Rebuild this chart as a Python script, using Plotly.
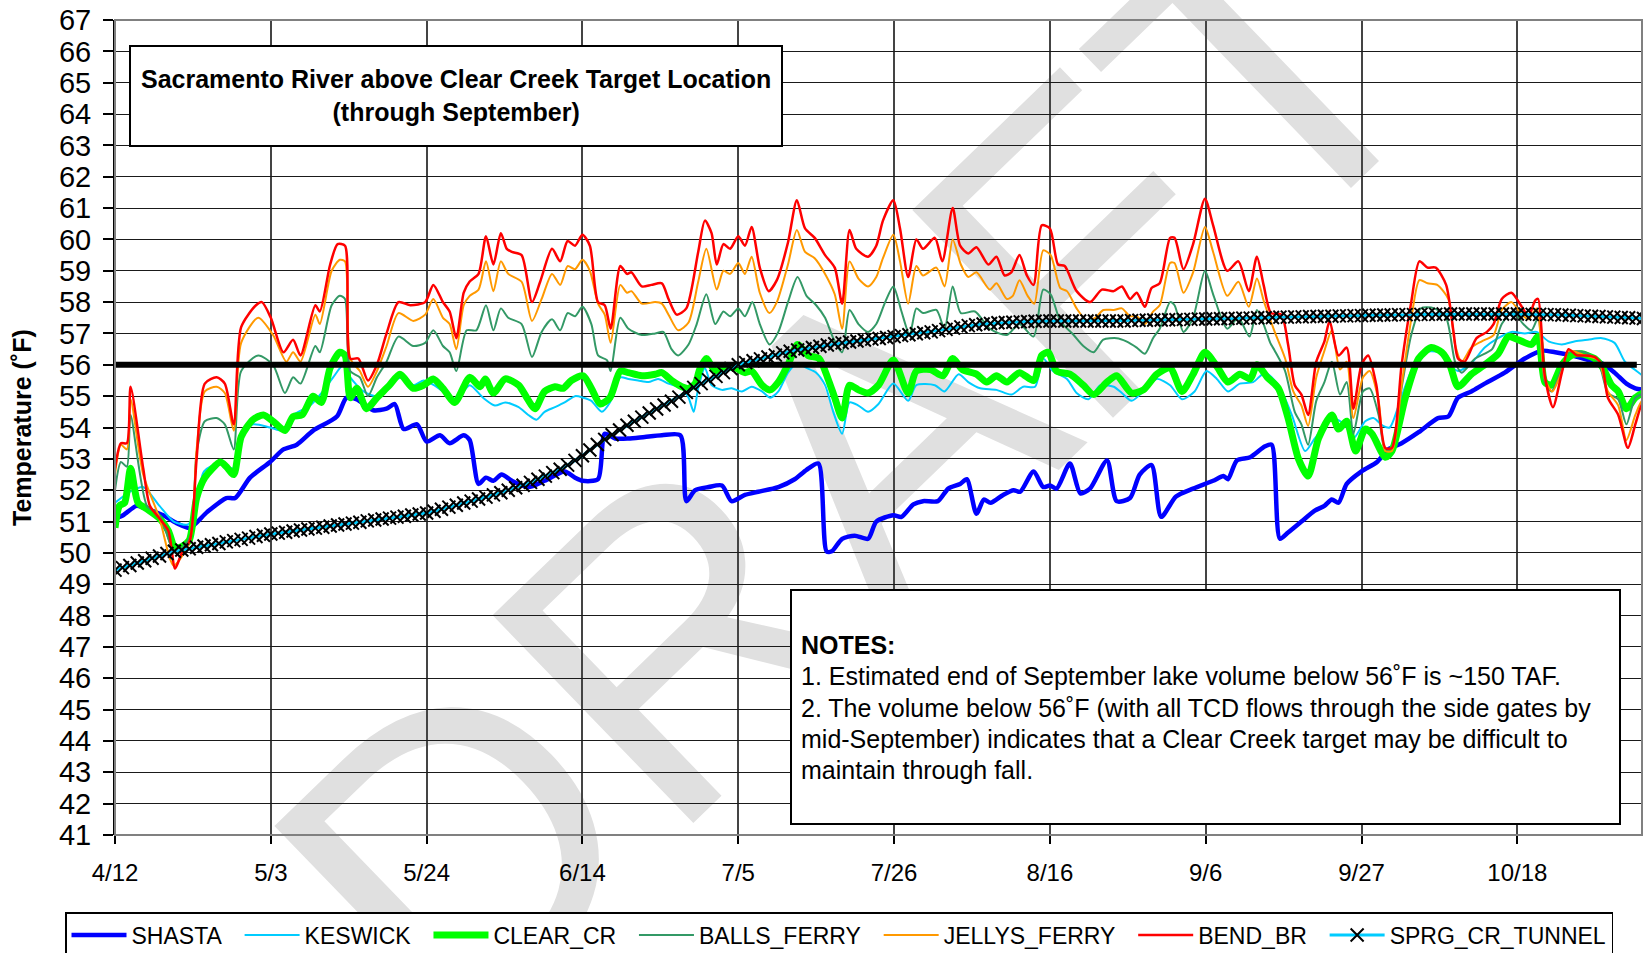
import pandas as pd
import plotly.graph_objects as go

# ---------------- data ----------------
START_DATE = "2009-04-12"
TICK_DAYS = [0, 21, 42, 63, 84, 105, 126, 147, 168, 189]
TICK_LABELS = ["4/12", "5/3", "5/24", "6/14", "7/5", "7/26", "8/16", "9/6", "9/27", "10/18"]
TARGET_TEMP = 56.0
TARGET_DAYS = [0, 205.1]

SHASTA_DAYS = [0, 1.1, 2.9, 4.3, 6.5, 8.3, 10.1, 12.4, 15, 16.2, 18.2, 20.9, 22.7, 24.5, 26.7, 29.9, 31.2, 32.6,
               34.8, 36.6, 37.7, 38.9, 40.7, 42, 43.8, 45.1, 47, 47.8, 49, 50, 51, 52.1, 53.5, 55.7, 57.9, 60.6,
               62, 63, 65.1, 66, 67.4, 69.2, 71.4, 73.7, 76.2, 77, 78.2, 80, 81.8, 83.1, 84.9, 86.7, 89.4, 91.6,
               93.2, 94.8, 95.9, 96.6, 98, 99.7, 101.5, 102.6, 104.9, 106, 107.6, 108.9, 110.9, 112.3, 113.9,
               114.8, 116.1, 117.1, 118, 119.7, 121.1, 122, 123.8, 125.1, 126, 126.9, 128.7, 130.1, 131.4, 133.7,
               135, 136.8, 138.1, 139.7, 141, 143, 145.3, 148, 149.4, 150, 151.2, 153, 155, 155.9, 157, 158.1,
               159.9, 161.7, 163, 164, 164.9, 166, 168, 170.1, 171.6, 173.4, 175.7, 178.3, 179.7, 181, 182.8,
               184.6, 187.3, 190, 192.3, 194.1, 196.3, 198.6, 200.4, 202.1, 203.7, 204.9, 206.2]
SHASTA_TEMP = [51.1, 51.2, 51.5, 51.4, 51.2, 50.95, 50.8, 51.3, 51.75, 51.75, 52.4, 52.9, 53.3, 53.45, 53.9, 54.35,
               54.95, 54.9, 54.55, 54.6, 54.75, 53.95, 54.1, 53.55, 53.75, 53.5, 53.75, 53.6, 52.2, 52.4, 52.3,
               52.5, 52.3, 52.1, 52.3, 52.6, 52.4, 52.3, 52.35, 53.8, 53.65, 53.65, 53.7, 53.75, 53.75, 51.65,
               52.0, 52.1, 52.15, 51.65, 51.85, 51.95, 52.1, 52.35, 52.65, 52.85, 50.05, 50.05, 50.45, 50.55,
               50.45, 51.0, 51.2, 51.15, 51.55, 51.65, 51.65, 52.05, 52.2, 52.35, 51.25, 51.7, 51.6, 51.85, 52.0,
               51.95, 52.6, 52.1, 52.15, 52.05, 52.85, 51.9, 52.05, 52.95, 51.65, 51.75, 52.5, 52.8, 51.15, 51.8,
               52.05, 52.3, 52.45, 52.35, 52.95, 53.05, 53.4, 53.45, 50.45, 50.65, 51.0, 51.35, 51.5, 51.7, 51.6,
               52.2, 52.6, 52.9, 53.3, 53.5, 53.85, 54.3, 54.35, 54.95, 55.15, 55.4, 55.75, 56.2, 56.45, 56.4,
               56.3, 56.15, 56.05, 55.75, 55.4, 55.25, 55.2]

KESWICK_DAYS = [0, 2, 3.8, 6, 7.9, 9.7, 10.5, 12, 14, 16, 17, 18.6, 20.9, 22.7, 24, 26.3, 28, 29.4, 30.8, 31.7, 33.5,
                35.3, 37.5, 38.9, 40.2, 41.6, 43, 44.2, 46, 47.8, 49.6, 51.2, 52.6, 54.4, 55.7, 56.8, 57.9, 59.3,
                60.6, 62, 63.1, 64.2, 65.6, 66.7, 68.1, 69.2, 70.5, 71.9, 73.2, 74.6, 76.4, 77.3, 78, 78.6, 79.5,
                80.4, 81.8, 83.1, 84.5, 85.8, 87.2, 88.3, 89.4, 90.7, 91.9, 93.2, 94.5, 95.7, 96.8, 98, 99, 100.2,
                101.5, 102.9, 104.9, 106.9, 108, 110.5, 111.8, 113.7, 115, 116.6, 118.8, 120.8, 122.4, 124, 125.1,
                126.4, 128.3, 129.6, 131.2, 132.8, 134.6, 135.7, 137, 138.6, 140.4, 142.2, 143.8, 145.5, 147.1,
                148.5, 150, 151.6, 153.4, 155, 156.8, 158.6, 160.4, 161.7, 164, 165.7, 166.9, 168.5, 169.6, 170.9,
                171.8, 173, 174.7, 176.5, 178.4, 179.9, 181, 182.8, 184.6, 186.4, 188.2, 190, 191.6, 193.2, 195,
                196.8, 198.5, 200.4, 202.1, 203.5, 204.8, 206.2]
KESWICK_TEMP = [51.6, 51.95, 52.1, 51.5, 51.0, 50.9, 51.1, 52.6, 52.85, 52.7, 53.7, 54.1, 54.0, 53.9, 54.4, 54.7,
                55.15, 55.6, 56.0, 55.6, 55.15, 55.0, 55.5, 55.6, 55.35, 55.5, 55.35, 55.15, 54.9, 55.35, 54.95,
                54.7, 54.8, 54.65, 54.4, 54.25, 54.5, 54.65, 54.8, 55.0, 54.95, 54.85, 54.5, 54.8, 55.6, 55.55,
                55.5, 55.45, 55.55, 55.4, 55.25, 54.95, 54.5, 55.25, 55.9, 55.35, 55.2, 55.25, 55.15, 55.3, 55.15,
                54.95, 55.15, 55.75, 56.05, 55.9, 55.75, 55.35, 54.5, 53.8, 54.8, 54.7, 54.5, 54.75, 55.4, 54.85,
                55.35, 55.35, 55.15, 55.7, 55.45, 55.25, 55.2, 55.05, 55.3, 55.3, 56.2, 55.8, 55.55, 55.1, 54.9,
                55.35, 55.3, 55.1, 54.85, 55.15, 55.55, 55.35, 54.9, 55.15, 55.8, 55.55, 55.15, 55.4, 55.45, 55.75,
                55.35, 54.4, 53.25, 53.65, 54.3, 54.1, 53.65, 54.2, 54.3, 54.05, 54.0, 54.7, 55.8, 56.4, 56.4, 56.0,
                55.8, 56.05, 56.55, 56.85, 57.05, 57.0, 57.05, 56.75, 56.65, 56.75, 56.8, 56.85, 56.7, 56.1, 55.85,
                55.6]

CLEAR_CR_DAYS = [0, 0.6, 1.3, 2.1, 3.1, 4.3, 6, 7.2, 8.1, 9, 10, 11, 12.1, 14.2, 15, 16, 17, 18.6, 20, 21.3, 22.9,
                 24, 25.2, 26.7, 27.8, 29, 30.3, 31, 31.7, 32.6, 33.9, 35.3, 37, 38.4, 40.2, 41.6, 42.9, 44.2, 45.8,
                 47.8, 49.2, 49.9, 51, 52.6, 54.4, 55.5, 56.6, 57.9, 59.3, 60.4, 61.5, 63.1, 64.2, 65.4, 66.7, 68.1,
                 69.2, 71, 72.8, 73.7, 75, 76.4, 77.3, 78.2, 78.8, 79.7, 80.9, 82.2, 83.6, 84.9, 85.8, 87.2, 88.3,
                 89.4, 90.7, 92, 93.4, 94.9, 96.1, 97, 98, 99, 100.2, 101.5, 102.9, 104.9, 106.9, 108, 109.9, 111.6,
                 112.9, 114.2, 116.1, 117.5, 118.8, 120.2, 121.9, 123.8, 124.9, 125.8, 126.9, 128.7, 130.5, 131.9,
                 133.7, 135, 137, 138.6, 140.4, 142.2, 143.8, 145.3, 146.9, 148.5, 150, 151.6, 153, 153.9, 155.3,
                 156.8, 158.1, 159.5, 160.8, 162.2, 164, 164.9, 166, 167.2, 168.5, 169.4, 171.2, 172.1, 173.9,
                 175.7, 177.4, 178.8, 179.9, 181, 182.8, 184.6, 186.4, 187.8, 189.1, 190.9, 191.8, 192.7, 193.6,
                 195, 196.3, 197.6, 199.4, 200.4, 201.7, 202.6, 203.7, 204.9, 206.2]
CLEAR_CR_TEMP = [50.8, 51.5, 51.6, 52.7, 51.6, 51.4, 51.1, 50.7, 50.15, 50.2, 50.4, 51.75, 52.4, 52.9, 52.75, 52.5,
                 53.7, 54.25, 54.4, 54.2, 53.9, 54.35, 54.4, 55.0, 54.8, 55.9, 56.4, 56.3, 54.95, 55.25, 54.6,
                 54.95, 55.35, 55.7, 55.25, 55.35, 55.55, 55.25, 54.8, 55.6, 55.3, 55.55, 55.1, 55.55, 55.35, 54.95,
                 54.6, 55.15, 55.3, 55.25, 55.5, 55.65, 55.25, 54.75, 54.95, 55.8, 55.75, 55.65, 55.7, 55.75, 55.5,
                 55.3, 55.25, 55.4, 55.85, 56.2, 55.8, 55.9, 55.9, 55.75, 55.8, 55.35, 55.2, 55.45, 56.0, 56.65,
                 56.3, 56.2, 55.55, 54.95, 54.3, 55.35, 55.2, 55.1, 55.35, 56.15, 55.1, 55.8, 55.85, 55.65, 56.2,
                 55.85, 55.7, 55.45, 55.65, 55.45, 55.75, 55.5, 56.3, 56.4, 55.8, 55.7, 55.35, 55.05, 55.45, 55.65,
                 55.1, 55.2, 55.7, 55.9, 55.15, 55.7, 56.4, 55.95, 55.45, 55.7, 55.55, 56.0, 55.6, 55.25, 54.3,
                 53.0, 52.45, 53.65, 54.4, 53.95, 54.2, 53.25, 53.95, 53.8, 53.05, 53.25, 54.95, 56.2, 56.55, 56.4,
                 56.0, 55.3, 55.7, 56.0, 56.35, 56.9, 56.8, 56.65, 56.9, 55.45, 55.35, 56.0, 56.3, 56.35, 56.2,
                 55.95, 55.35, 55.15, 54.6, 54.95, 55.15]

BALLS_FERRY_DAYS = [0, 0.8, 1.6, 2.1, 4.3, 6, 8.1, 10.1, 11, 12.1, 13.7, 14.8, 16, 17, 19.3, 21.3, 22.9, 24, 25, 27,
                    27.6, 29.2, 30.3, 31, 31.7, 33, 34.1, 35.3, 36.6, 38.2, 40.2, 41.8, 42.9, 44.2, 45.1, 46, 47.4,
                    48.7, 50, 51, 52, 53, 54.8, 56.2, 57.5, 58.9, 60, 61, 62, 63, 64.2, 65.1, 66.3, 66.8, 68.1,
                    69.2, 71, 72.8, 73.9, 75, 75.9, 77.3, 78.4, 79.7, 80.9, 82, 82.9, 84, 84.9, 85.9, 86.9, 88.2,
                    89.4, 90.7, 92, 93.2, 94.5, 95.7, 96.8, 98, 99, 100.2, 101.5, 102.6, 103.8, 104.9, 106, 107.1,
                    108, 108.9, 110.7, 111.8, 112.9, 114, 115.9, 117.9, 120.2, 121.9, 123.8, 125.1, 126.1, 127.4,
                    129.2, 130.5, 131.9, 133.2, 135, 136.3, 137.7, 138.8, 139.9, 140.8, 142.2, 142.8, 144, 145.3,
                    146.9, 148, 149.9, 151.4, 152.9, 153.9, 154.8, 155.7, 156.3, 157.7, 159, 159.9, 160.8, 161.9,
                    163, 164, 165.1, 166, 166.9, 168.2, 169.1, 170.3, 171.2, 172.1, 173.4, 174.7, 176, 177.8, 179.4,
                    180.6, 181.5, 183.3, 185.6, 186.9, 188.4, 189.8, 190.9, 191.8, 192.7, 193.6, 195, 195.9, 198.1,
                    199.9, 201.2, 202.6, 203.7, 204.9, 206.2]
BALLS_FERRY_TEMP = [52.0, 52.9, 52.75, 54.4, 51.5, 51.2, 50.0, 50.5, 53.2, 54.2, 54.3, 54.1, 53.3, 55.8, 56.3, 56.0,
                    55.1, 55.6, 55.4, 56.6, 56.4, 57.9, 58.2, 58.1, 55.8, 55.6, 55.0, 55.6, 56.1, 56.9, 56.6, 56.7,
                    57.1, 56.6, 56.4, 55.8, 57.1, 57.1, 57.9, 57.1, 57.8, 57.5, 57.3, 56.25, 57.05, 57.45, 57.1,
                    57.65, 57.55, 57.85, 57.3, 56.3, 56.15, 55.8, 57.5, 57.15, 56.95, 57.0, 57.05, 56.5, 56.3,
                    56.65, 57.3, 58.25, 57.3, 57.7, 57.55, 57.8, 57.55, 58.0, 57.3, 56.65, 57.05, 58.0, 58.8, 58.2,
                    57.9, 57.5, 56.85, 56.4, 57.75, 57.3, 57.05, 57.3, 58.0, 58.5, 57.7, 56.95, 57.8, 57.65, 57.75,
                    57.15, 58.5, 57.65, 57.7, 57.15, 56.95, 57.3, 56.9, 58.4, 58.25, 57.4, 56.95, 56.6, 56.4, 56.8,
                    56.85, 56.75, 56.55, 56.35, 56.85, 57.15, 58.0, 57.9, 57.05, 57.5, 59.0, 58.25, 57.15, 57.5,
                    56.9, 57.75, 57.3, 56.7, 56.45, 55.8, 54.5, 54.1, 53.45, 54.85, 55.45, 56.1, 55.05, 55.45, 53.8,
                    55.15, 55.25, 54.4, 53.25, 53.35, 55.25, 56.95, 57.8, 57.8, 57.5, 56.1, 55.75, 56.2, 56.5, 57.3,
                    57.7, 57.3, 57.1, 57.5, 55.45, 55.15, 55.9, 56.4, 56.4, 56.1, 55.1, 54.9, 54.1, 54.95, 55.1]

JELLYS_FERRY_DAYS = [0, 0.8, 1.6, 2.1, 3.8, 6, 7.9, 10.1, 11, 12.1, 13.7, 14.8, 16, 17, 19.3, 21.3, 23.1, 24, 25,
                     27, 27.6, 29.2, 30.3, 31, 31.7, 33, 34.1, 35.3, 36.6, 38.2, 40.2, 41.8, 42.9, 44.2, 45.1, 46,
                     47, 47.8, 49, 50, 51, 52, 53, 54.8, 56.2, 57.5, 58.9, 60, 61, 62, 63, 64, 65.1, 66, 66.8, 68.1,
                     69, 69.6, 71, 72.8, 73.7, 74.6, 75.9, 77.3, 78.6, 79.7, 81.1, 82, 82.9, 84, 84.9, 85.8, 86.9,
                     88.2, 89.2, 90.7, 91.9, 93, 94.3, 95.7, 97, 98, 99, 100.2, 101.5, 102.6, 103.5, 104.9, 105.8,
                     106.9, 108, 108.9, 110.7, 111.8, 112.9, 114, 115, 116.1, 117.9, 118.8, 120.2, 121, 121.9, 123,
                     123.9, 125.1, 126.1, 127.4, 128.3, 129.6, 131, 132.1, 133.2, 134.6, 135.7, 136.8, 137.7, 138.8,
                     139.9, 140.8, 142.2, 142.8, 144, 145.3, 146.9, 148, 149.9, 151.4, 152.8, 153.9, 154.8, 155.3,
                     156.3, 157.7, 158.8, 159.9, 160.8, 161.9, 163, 164, 165.1, 166, 166.9, 168.2, 169.1, 170.3,
                     171.2, 172.1, 173.4, 174.7, 175.8, 176.9, 178.2, 179.7, 180.6, 181.5, 182.8, 184.2, 185.8,
                     186.9, 188.2, 189.6, 190.5, 191.6, 192.7, 193.7, 195, 195.9, 198.1, 199.9, 201.2, 202.6, 203.7,
                     204.9, 205.8, 206.2]
JELLYS_FERRY_TEMP = [52.5, 53.45, 53.3, 54.9, 52.5, 51.1, 49.6, 50.4, 53.3, 55.15, 55.3, 55.1, 53.9, 56.7, 57.5,
                     56.95, 56.1, 56.4, 56.1, 57.6, 57.3, 59.0, 59.35, 59.3, 56.2, 55.8, 55.3, 55.8, 56.6, 57.65,
                     57.4, 57.6, 58.1, 57.5, 57.3, 56.5, 57.9, 58.2, 58.4, 59.3, 58.35, 59.3, 58.9, 58.65, 57.4,
                     58.1, 58.9, 58.55, 59.15, 59.05, 59.35, 59.0, 57.95, 57.6, 56.7, 58.55, 58.3, 58.35, 57.95,
                     58.0, 57.95, 57.6, 57.1, 57.35, 58.65, 59.7, 58.4, 59.0, 58.9, 59.25, 58.9, 59.45, 58.3, 57.65,
                     58.0, 59.2, 60.3, 59.6, 59.4, 58.9, 58.25, 57.15, 59.3, 58.75, 58.5, 58.8, 59.4, 60.15, 59.3,
                     57.95, 59.15, 58.85, 59.1, 58.5, 60.0, 59.2, 58.8, 58.95, 58.4, 58.6, 58.1, 58.2, 58.7, 58.2,
                     57.95, 59.65, 59.5, 58.45, 58.35, 57.8, 57.4, 57.5, 57.75, 57.75, 57.8, 57.55, 57.55, 57.3,
                     57.7, 57.9, 59.25, 59.25, 58.3, 58.95, 60.4, 59.6, 58.2, 58.65, 57.85, 58.75, 58.05, 57.7,
                     57.05, 56.2, 55.15, 54.7, 54.05, 55.6, 56.45, 57.1, 55.85, 56.1, 54.3, 55.6, 55.8, 54.85, 53.25,
                     53.25, 55.35, 57.45, 58.7, 58.6, 58.55, 58.1, 56.65, 56.1, 56.55, 56.75, 56.95, 57.75, 58.0,
                     57.6, 57.45, 57.8, 55.55, 55.15, 55.8, 56.45, 56.3, 56.15, 55.15, 54.7, 53.6, 54.4, 54.85, 54.7]

BEND_BR_DAYS = [0, 0.8, 1.6, 2.1, 3.8, 4.7, 6, 7.2, 8.1, 9, 10.1, 11, 12.1, 13.7, 14.8, 16, 17, 19, 19.8, 21, 22.7,
                24, 25, 27, 27.6, 29, 30, 31, 31.7, 32.8, 34.1, 35.3, 36.6, 38.2, 39.8, 41.8, 42.9, 44.2, 45.1, 46,
                47, 47.8, 49, 50, 51, 52, 52.8, 53.5, 54.8, 56.2, 57.3, 58.9, 60, 61, 62, 63, 64, 65.1, 66, 66.8,
                68.1, 69, 69.6, 71, 72.3, 73.7, 74.6, 75.7, 77, 78.6, 79.5, 80.4, 81.1, 82, 82.9, 84, 84.9, 85.8,
                86.9, 88.1, 89.2, 90.7, 91.9, 93, 94.3, 95.7, 97, 98, 99, 99.9, 101.5, 102.6, 103.5, 104.9, 105.8,
                106.9, 108, 108.9, 110.5, 111.5, 112.9, 113.9, 115, 116.1, 117.7, 118.8, 119.9, 120.8, 121.9,
                122.9, 123.8, 124.9, 126, 127.1, 128, 129.6, 131.4, 133, 134.6, 135.7, 136.8, 137.7, 138.8, 139.7,
                140.8, 142.2, 142.8, 144, 145.3, 146.9, 148, 149.9, 151.4, 152.8, 153.9, 154.8, 155.8, 157.2,
                158.1, 159, 159.9, 160.8, 161.9, 163, 163.7, 164.9, 166, 166.9, 168, 168.9, 170, 171.2, 172.1,
                173.4, 174.7, 175.8, 176.9, 178, 179.4, 180.4, 181, 181.9, 183.5, 184.9, 185.8, 186.9, 188.2,
                189.6, 190.5, 191.4, 191.8, 192.7, 193.8, 195, 195.9, 197, 198.1, 199.4, 200.4, 201.2, 202.6,
                203.9, 204.9, 205.8, 206.2]
BEND_BR_TEMP = [52.7, 53.5, 53.5, 55.3, 52.7, 51.5, 51.1, 50.7, 49.5, 50.0, 50.4, 53.0, 55.4, 55.6, 55.4, 54.1, 57.2,
                57.9, 58.0, 57.5, 56.4, 56.8, 56.3, 57.9, 57.7, 59.2, 59.85, 59.8, 56.2, 56.2, 55.5, 56.0, 57.0,
                58.0, 57.9, 58.0, 58.55, 58.0, 57.7, 56.85, 58.3, 58.66, 58.9, 60.1, 59.2, 60.2, 59.7, 59.6, 59.5,
                58.0, 58.65, 59.7, 59.3, 59.95, 59.8, 60.15, 59.8, 58.0, 57.9, 57.15, 59.15, 58.9, 58.95, 58.5,
                58.55, 58.6, 58.1, 57.6, 57.8, 59.6, 60.6, 60.2, 59.2, 59.85, 59.7, 60.1, 59.8, 60.4, 59.1, 58.35,
                58.7, 59.9, 61.25, 60.35, 60.05, 59.5, 59.1, 57.95, 60.3, 59.7, 59.45, 59.8, 60.6, 61.25, 60.35,
                58.8, 60.0, 59.7, 60.05, 59.3, 61.0, 59.8, 59.55, 59.75, 59.2, 59.45, 58.85, 58.95, 59.5, 58.85,
                58.55, 60.45, 60.35, 59.2, 59.15, 58.35, 58.0, 58.4, 58.35, 58.5, 58.1, 58.3, 57.85, 58.45, 58.6,
                60.05, 60.05, 59.05, 59.85, 61.3, 60.45, 59.0, 59.3, 58.35, 59.45, 58.55, 57.65, 57.6, 56.65,
                55.35, 55.05, 54.4, 56.1, 56.75, 57.4, 56.3, 56.55, 54.6, 56.0, 56.3, 55.35, 53.35, 53.35, 56.0,
                58.0, 59.3, 59.1, 59.1, 58.55, 57.05, 56.2, 56.1, 56.85, 57.05, 57.3, 58.1, 58.3, 57.85, 57.55,
                58.05, 58.1, 55.65, 54.65, 55.75, 56.5, 56.3, 56.3, 56.25, 56.0, 54.95, 54.4, 53.35, 54.1, 54.75,
                53.7]

# daily values, starting on START_DATE
SPRG_CR_TUNNEL_TEMP = [
    49.45, 49.53, 49.60, 49.68, 49.75, 49.83, 49.90, 49.98, 50.05,
    50.09, 50.13, 50.18, 50.22, 50.26, 50.30, 50.35, 50.39, 50.43, 50.47, 50.52, 50.56, 50.60,
    50.63, 50.66, 50.70, 50.73, 50.76, 50.79, 50.82, 50.86, 50.89, 50.92, 50.95, 50.98, 51.02, 51.05,
    51.08, 51.11, 51.14, 51.17, 51.21, 51.24, 51.27,
    51.33, 51.39, 51.46, 51.52, 51.59, 51.65, 51.72, 51.78, 51.85,
    51.92, 52.00, 52.08, 52.16, 52.25, 52.35, 52.45, 52.56, 52.67, 52.80, 52.95, 53.10,
    53.28, 53.46, 53.62, 53.77, 53.92, 54.07, 54.20, 54.33, 54.46, 54.59, 54.72, 54.84, 54.97, 55.12,
    55.28, 55.40, 55.52, 55.63, 55.75, 55.88, 56.00,
    56.07, 56.13, 56.19, 56.25, 56.31, 56.38, 56.43, 56.47, 56.51, 56.55, 56.59, 56.63, 56.67, 56.70,
    56.73, 56.76, 56.79, 56.82, 56.84, 56.87, 56.90,
    56.93, 56.96, 56.99, 57.02, 57.05, 57.09, 57.13, 57.17, 57.21, 57.25, 57.28, 57.30, 57.32, 57.34,
    57.35, 57.36, 57.37, 57.38, 57.39, 57.40, 57.40,
    57.40, 57.40, 57.40, 57.40, 57.40, 57.40, 57.40, 57.40, 57.40, 57.40,
    57.41, 57.42, 57.42, 57.43, 57.43, 57.44, 57.44, 57.45, 57.45, 57.46, 57.46, 57.47, 57.47, 57.48,
    57.48, 57.49, 57.49, 57.50, 57.50,
    57.51, 57.52, 57.52, 57.53, 57.53, 57.54, 57.54, 57.55, 57.55, 57.56, 57.56, 57.57, 57.57, 57.58,
    57.58, 57.59, 57.59, 57.60, 57.60, 57.60, 57.61, 57.61, 57.61,
    57.62, 57.62, 57.62, 57.62, 57.62, 57.62, 57.62, 57.62, 57.62, 57.62, 57.62, 57.62,
    57.61, 57.61, 57.60, 57.60, 57.59, 57.58, 57.57, 57.56, 57.55, 57.54, 57.53, 57.52, 57.51, 57.50,
    57.49, 57.48,
]

TITLE_LINES = ["Sacramento River above Clear Creek Target Location", "(through September)"]
NOTES_LINES = [
    "<b>NOTES:</b>",
    "1. Estimated end of September lake volume below 56˚F is ~150 TAF.",
    "2. The volume below 56˚F (with all TCD flows through the side gates by",
    "mid-September) indicates that a Clear Creek target may be difficult to",
    "maintain through fall.",
]
WATERMARK = "DRAFT"

# ---------------- helpers ----------------
BASE = pd.Timestamp(START_DATE)


def to_dates(days):
    return [BASE + pd.Timedelta(days=float(d)) for d in days]


FONT = "Liberation Sans, Arial, Helvetica, sans-serif"
W, H = 1646, 953
ML, MR, MT, MB = 115, 4, 20, 118
PW, PH = W - ML - MR, H - MT - MB


def px2x(px):
    return (px - ML) / PW


def py2y(py):
    return (H - MB - py) / PH


PAD = "\u00a0\u00a0"  # extra legend spacing after an entry

fig = go.Figure()

SMOOTH = 0.7
series = [
    ("SHASTA", SHASTA_DAYS, SHASTA_TEMP, "#0000FF", 4.5),
    ("KESWICK", KESWICK_DAYS, KESWICK_TEMP, "#00CCFF", 2),
    ("CLEAR_CR", CLEAR_CR_DAYS, CLEAR_CR_TEMP, "#00FF00", 7),
    ("BALLS_FERRY", BALLS_FERRY_DAYS, BALLS_FERRY_TEMP, "#339966", 2),
    ("JELLYS_FERRY", JELLYS_FERRY_DAYS, JELLYS_FERRY_TEMP, "#FF9900", 2),
    ("BEND_BR", BEND_BR_DAYS, BEND_BR_TEMP, "#FF0000", 2.5),
]
for name, days, temps, color, width in series:
    fig.add_trace(go.Scatter(
        x=to_dates(days), y=temps, name=name + PAD, mode="lines",
        line=dict(color=color, width=width, shape="spline", smoothing=SMOOTH),
    ))

# 56 F target line
fig.add_trace(go.Scatter(
    x=to_dates(TARGET_DAYS), y=[TARGET_TEMP] * len(TARGET_DAYS), mode="lines",
    line=dict(color="black", width=6), showlegend=False, hoverinfo="skip",
))

fig.add_trace(go.Scatter(
    x=to_dates(range(len(SPRG_CR_TUNNEL_TEMP))), y=SPRG_CR_TUNNEL_TEMP, name="SPRG_CR_TUNNEL",
    mode="lines+markers",
    line=dict(color="#00CCFF", width=3),
    marker=dict(symbol="x-thin", size=13, color="black", line=dict(color="black", width=2)),
))

wm_cx, wm_cy = px2x(825), py2y(438)
shapes = [
    # DRAFT watermark (below the grid)
    dict(type="rect", xref="paper", yref="paper",
         x0=wm_cx - 0.01, x1=wm_cx + 0.01, y0=wm_cy - 0.01, y1=wm_cy + 0.01,
         line=dict(width=0), fillcolor="rgba(0,0,0,0)", layer="below",
         label=dict(text=WATERMARK, textangle=-44, textposition="middle center",
                    font=dict(family=FONT, size=420, color="#e0e0e0"))),
    # plot frame
    dict(type="rect", xref="paper", yref="paper", x0=0, x1=1, y0=0, y1=1,
         line=dict(color="#808080", width=2), fillcolor="rgba(0,0,0,0)", layer="above"),
    # title box
    dict(type="rect", xref="paper", yref="paper", x0=px2x(130), x1=px2x(782), y0=py2y(146), y1=py2y(46),
         line=dict(color="black", width=2), fillcolor="white", layer="above"),
    # notes box
    dict(type="rect", xref="paper", yref="paper", x0=px2x(791), x1=px2x(1620), y0=py2y(824), y1=py2y(590),
         line=dict(color="black", width=2), fillcolor="white", layer="above"),
]

annotations = [
    dict(xref="paper", yref="paper", x=px2x(456), y=py2y(95), xanchor="center", yanchor="middle",
         text="<b>" + TITLE_LINES[0] + "</b><br><b>" + TITLE_LINES[1] + "</b>", showarrow=False,
         font=dict(family=FONT, size=25, color="black"), align="center"),
    dict(xref="paper", yref="paper", x=px2x(22), y=py2y(428), xanchor="center", yanchor="middle",
         text="<b>Temperature (˚F)</b>", textangle=-90, showarrow=False,
         font=dict(family=FONT, size=25, color="black")),
]
for i, line in enumerate(NOTES_LINES):
    annotations.append(dict(xref="paper", yref="paper", x=px2x(799), y=py2y([645, 676, 708, 739, 770][i]),
                            xanchor="left", yanchor="middle", text=line, showarrow=False, align="left",
                            font=dict(family=FONT, size=25, color="black")))

fig.update_layout(
    width=W, height=H,
    margin=dict(l=ML, r=MR, t=MT, b=MB, autoexpand=False),
    plot_bgcolor="rgba(0,0,0,0)", paper_bgcolor="white",
    font=dict(family=FONT, color="black"),
    shapes=shapes, annotations=annotations,
    legend=dict(orientation="h", x=px2x(65), y=py2y(912), xanchor="left", yanchor="top",
                bordercolor="black", borderwidth=1.5, bgcolor="white",
                font=dict(family=FONT, size=23, color="black"), itemwidth=55,
                traceorder="normal"),
    hovermode=False,
)

fig.update_xaxes(
    type="date",
    range=[BASE, BASE + pd.Timedelta(days=205.8)],
    tickvals=to_dates(TICK_DAYS), ticktext=TICK_LABELS,
    showgrid=True, gridcolor="#444444", gridwidth=1.5,
    ticks="outside", ticklen=8, tickcolor="black", tickwidth=1.5,
    tickfont=dict(family=FONT, size=24, color="black"),
    showline=False, zeroline=False, ticklabelstandoff=8,
)
fig.update_yaxes(
    range=[41, 67], tickmode="linear", tick0=41, dtick=1,
    showgrid=True, gridcolor="#1a1a1a", gridwidth=1,
    ticks="outside", ticklen=10, tickcolor="black", tickwidth=1.5,
    tickfont=dict(family=FONT, size=29, color="black"),
    showline=True, linecolor="black", linewidth=2, zeroline=False,
    ticklabelstandoff=6,
)

fig.write_html("out.html", config={"displayModeBar": False},
               post_script="document.body.style.margin='0';document.body.style.overflow='hidden';")
